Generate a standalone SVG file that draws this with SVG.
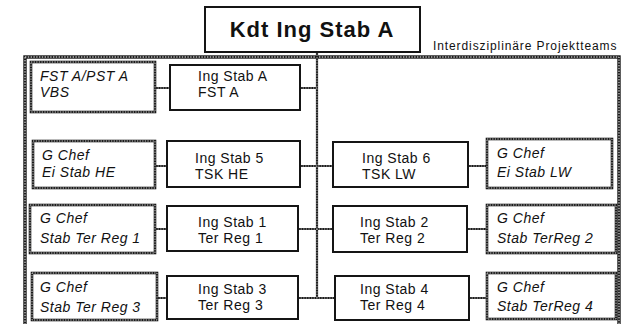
<svg xmlns="http://www.w3.org/2000/svg" width="629" height="324" viewBox="0 0 629 324">
<style>
.bg{fill:#fff}
.solid{fill:#fff;stroke:#151515;stroke-width:2}
.dotb{fill:#fff;stroke:#1a1a1a;stroke-width:2.6}
.dott{fill:none;stroke:#fff;stroke-width:0.8;stroke-dasharray:1.3 1.3}
.frb{fill:none;stroke:#1a1a1a;stroke-width:3.4}
.frt{fill:none;stroke:#fff;stroke-width:1;stroke-dasharray:1.4 1.4}
.cb{fill:none;stroke:#1a1a1a;stroke-width:2.2}
.ct{fill:none;stroke:#fff;stroke-width:0.7;stroke-dasharray:1.3 1.3}
text{font-family:"Liberation Sans",Arial,sans-serif;fill:#111}
.t{font-size:14px;letter-spacing:0.5px}
.i{font-size:14px;font-style:italic;letter-spacing:0.5px}
.h{font-size:22px;font-weight:bold;letter-spacing:1px}
.s{font-size:12px;letter-spacing:0.9px}
</style>
<rect class="bg" x="0" y="0" width="629" height="324"/>
<g id="frame">
<rect class="frb" x="25" y="57" width="594" height="272"/>
<rect class="frt" x="25" y="57" width="594" height="272"/>
<text class="s" x="433" y="50">Interdisziplinäre Projektteams</text>
</g>
<g id="connectors">
<path class="cb" d="M317,52V298 M155,88H170 M300,88H317 M155,166H167 M300,166H333 M468,166H487 M155,229H167 M298,229H333 M467,229H487 M157,298H167 M298,298H335 M469,298H487"/>
<path class="ct" d="M317,52V298 M155,88H170 M300,88H317 M155,166H167 M300,166H333 M468,166H487 M155,229H167 M298,229H333 M467,229H487 M157,298H167 M298,298H335 M469,298H487"/>
</g>
<g id="kdt">
<rect class="solid" x="205" y="7" width="215" height="45"/>
<text class="h" x="312" y="37" text-anchor="middle">Kdt Ing Stab A</text>
</g>
<g id="fst">
<rect class="dotb" x="31" y="62" width="124" height="50"/>
<rect class="dott" x="31" y="62" width="124" height="50"/>
<text class="i" x="40" y="81">FST A/PST A</text>
<text class="i" x="40" y="97">VBS</text>
</g>
<g id="ingstabA">
<rect class="solid" x="170" y="65" width="130" height="45"/>
<text class="t" x="198" y="81">Ing Stab A</text>
<text class="t" x="198" y="97">FST A</text>
</g>
<g id="chefHE">
<rect class="dotb" x="33" y="141" width="122" height="47"/>
<rect class="dott" x="33" y="141" width="122" height="47"/>
<text class="i" x="42" y="160">G Chef</text>
<text class="i" x="42" y="177">Ei Stab HE</text>
</g>
<g id="ingstab5">
<rect class="solid" x="167" y="141" width="133" height="46"/>
<text class="t" x="195" y="163">Ing Stab 5</text>
<text class="t" x="195" y="179">TSK HE</text>
</g>
<g id="ingstab6">
<rect class="solid" x="333" y="142" width="135" height="45"/>
<text class="t" x="362" y="163">Ing Stab 6</text>
<text class="t" x="362" y="179">TSK LW</text>
</g>
<g id="chefLW">
<rect class="dotb" x="487" y="139" width="125" height="49"/>
<rect class="dott" x="487" y="139" width="125" height="49"/>
<text class="i" x="497" y="158">G Chef</text>
<text class="i" x="497" y="177">Ei Stab LW</text>
</g>
<g id="chefTR1">
<rect class="dotb" x="30" y="205" width="125" height="48"/>
<rect class="dott" x="30" y="205" width="125" height="48"/>
<text class="i" x="40" y="223">G Chef</text>
<text class="i" x="40" y="243">Stab Ter Reg 1</text>
</g>
<g id="ingstab1">
<rect class="solid" x="167" y="206" width="131" height="45"/>
<text class="t" x="198" y="227">Ing Stab 1</text>
<text class="t" x="198" y="243">Ter Reg 1</text>
</g>
<g id="ingstab2">
<rect class="solid" x="333" y="206" width="134" height="46"/>
<text class="t" x="360" y="227">Ing Stab 2</text>
<text class="t" x="360" y="243">Ter Reg 2</text>
</g>
<g id="chefTR2">
<rect class="dotb" x="487" y="205" width="129" height="48"/>
<rect class="dott" x="487" y="205" width="129" height="48"/>
<text class="i" x="497" y="223">G Chef</text>
<text class="i" x="497" y="243">Stab TerReg 2</text>
</g>
<g id="chefTR3">
<rect class="dotb" x="32" y="273" width="125" height="47"/>
<rect class="dott" x="32" y="273" width="125" height="47"/>
<text class="i" x="40" y="292">G Chef</text>
<text class="i" x="40" y="312">Stab Ter Reg 3</text>
</g>
<g id="ingstab3">
<rect class="solid" x="167" y="276" width="131" height="43"/>
<text class="t" x="198" y="294">Ing Stab 3</text>
<text class="t" x="198" y="310">Ter Reg 3</text>
</g>
<g id="ingstab4">
<rect class="solid" x="335" y="276" width="134" height="44"/>
<text class="t" x="360" y="294">Ing Stab 4</text>
<text class="t" x="360" y="310">Ter Reg 4</text>
</g>
<g id="chefTR4">
<rect class="dotb" x="487" y="273" width="129" height="46"/>
<rect class="dott" x="487" y="273" width="129" height="46"/>
<text class="i" x="497" y="292">G Chef</text>
<text class="i" x="497" y="311">Stab TerReg 4</text>
</g>
</svg>
